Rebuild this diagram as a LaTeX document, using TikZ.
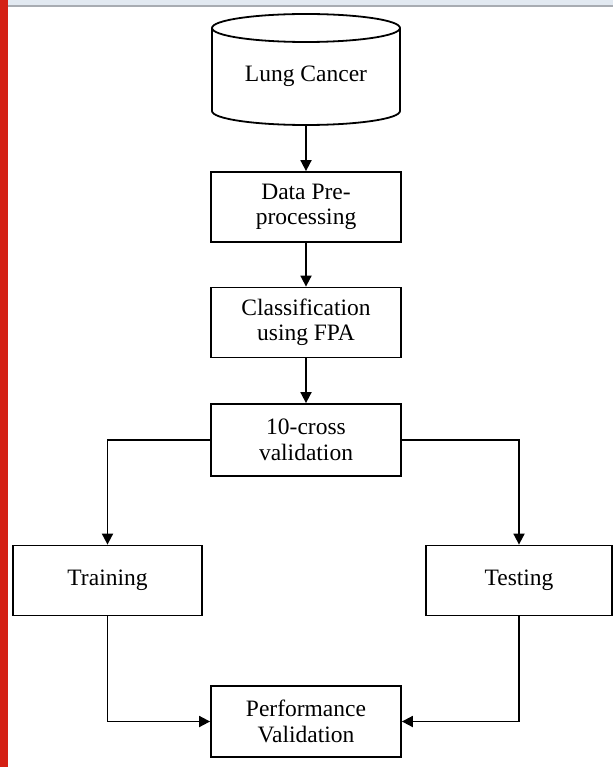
\documentclass[tikz,border=0pt]{standalone}
\usepackage{fontspec}
\setmainfont{Liberation Serif}
\usetikzlibrary{arrows.meta}

\definecolor{barred}{RGB}{212,32,20}
\definecolor{topband}{RGB}{226,233,241}
\definecolor{topline}{RGB}{168,172,178}

\tikzset{
  stagebox/.style={draw, line width=1.8pt, fill=white, minimum width=190pt,
    minimum height=70pt, align=center, font=\fontsize{23.5}{25.5}\selectfont},
  flow/.style={line width=1.8pt, -{Triangle[length=11pt,width=11pt]}}
}

\begin{document}
\begin{tikzpicture}[x=1pt,y=1pt]
      \useasboundingbox (0,0) rectangle (613,-767);
      % page frame
      \fill[barred] (0,0) rectangle (8,-767);
      \fill[topband] (8,0) rectangle (613,-5);
      \fill[topline] (8,-5) rectangle (613,-7.5);

      % data source
      \draw[line width=1.8pt] (212,-28) -- (212,-111) arc (180:360:94 and 14)
        -- (400,-28);
      \draw[line width=1.8pt] (306,-28) ellipse (94 and 14);
      \node[minimum width=188pt, minimum height=98pt,
        font=\fontsize{23.5}{25.5}\selectfont] (lung) at (306,-76) {Lung Cancer};

      \node[stagebox] (prep) at (306,-207) {Data Pre-\\processing};
      \node[stagebox] (fpa) at (306,-322.5) {Classification\\using FPA};
      \node[stagebox, minimum height=72pt] (cv) at (306,-440) {10-cross\\validation};
      \node[stagebox, minimum width=189pt] (train) at (107.5,-580.5) {Training};
      \node[stagebox, minimum width=186pt] (test) at (519,-580.5) {Testing};
      \node[stagebox, minimum height=71pt] (perf) at (306,-721.5) {Performance\\Validation};

      \draw[flow] (lung.south) -- (prep.north);
      \draw[flow] (prep) -- (fpa);
      \draw[flow] (fpa) -- (cv);
      \draw[flow] (cv.west) -| (train.north);
      \draw[flow] (cv.east) -| (test.north);
      \draw[flow] (train.south) |- (perf.west);
      \draw[flow] (test.south) |- (perf.east);
    \end{tikzpicture}
\end{document}
